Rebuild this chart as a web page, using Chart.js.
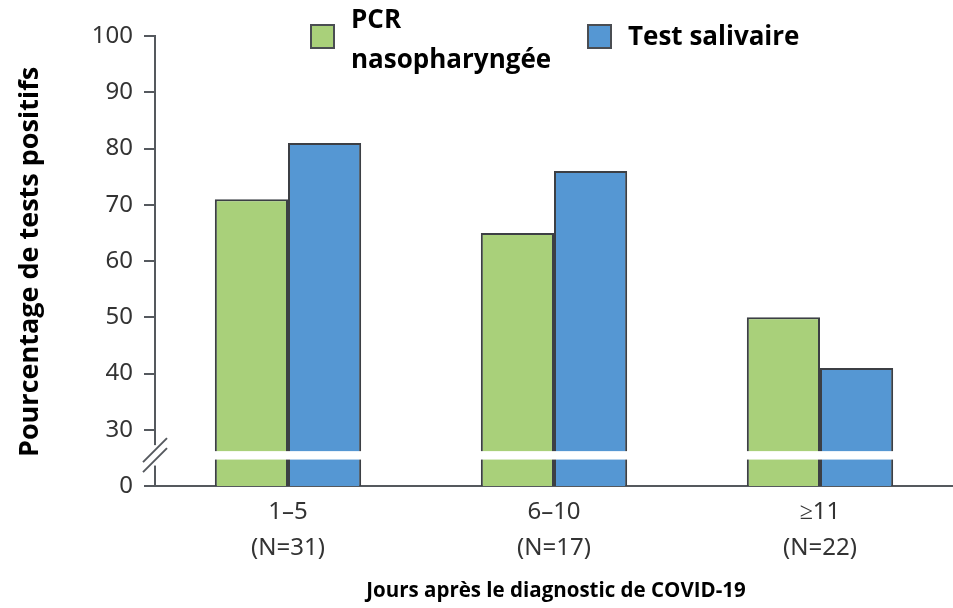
<!DOCTYPE html>
<html>
<head>
<meta charset="utf-8">
<script src="https://cdn.jsdelivr.net/npm/chart.js"></script>
<style>
  html, body { margin: 0; padding: 0; background: #fff; }
  #wrap { width: 953px; height: 608px; position: relative; }
</style>
</head>
<body>
<div id="wrap"><canvas id="chart"></canvas></div>
<script>
// données du graphique
const categories = [["1–5", "(N=31)"], ["6–10", "(N=17)"], ["≥11", "(N=22)"]];
const pcrValues = [71, 65, 50];
const salivaValues = [81, 76, 41];
const seriesNames = [["PCR", "nasopharyngée"], ["Test salivaire"]];
const yTicks = [20, 30, 40, 50, 60, 70, 80, 90, 100];
// la graduation 20 sert de "0" sous la coupure de l'axe
const yTickLabels = { 20: "0" };

const green = "#a9d07a";
const blue = "#5597d3";
const edge = "#3c3f44";
const axisColor = "#55595e";

// coupure de l'axe Y + bande blanche sur les barres + titres + légende
const brokenAxis = {
    id: "brokenAxis",
    afterDatasetsDraw(chart) {
        const ctx = chart.ctx;
        const y = chart.scales.y;
        const area = chart.chartArea;
        const yTop = y.getPixelForValue(26.2);
        const yBot = y.getPixelForValue(24.7);
        ctx.save();
        ctx.fillStyle = "#fff";
        ctx.fillRect(area.left + 2, yTop, area.right - area.left, yBot - yTop);
        // barres obliques sur l'axe
        const x0 = area.left;
        ctx.fillRect(x0 - 3, yTop - 6, 6, yBot - yTop + 12);
        ctx.strokeStyle = axisColor;
        ctx.lineWidth = 2;
        [-5, 5].forEach(d => {
            ctx.beginPath();
            ctx.moveTo(x0 - 12, yTop + 14 + d + 2);
            ctx.lineTo(x0 + 12, yTop - 10 + d + 2);
            ctx.stroke();
        });
        ctx.restore();
    },
    afterDraw(chart) {
        const ctx = chart.ctx;
        ctx.save();
        ctx.fillStyle = "#000";
        // titre de l'axe Y
        ctx.font = "bold 27px 'Open Sans'";
        ctx.textAlign = "center";
        ctx.textBaseline = "middle";
        ctx.translate(30, 262);
        ctx.rotate(-Math.PI / 2);
        ctx.fillText("Pourcentage de tests positifs", 0, 0);
        ctx.setTransform(1, 0, 0, 1, 0, 0);
        // titre de l'axe X
        ctx.font = "bold 20.5px 'Open Sans'";
        ctx.fillText("Jours après le diagnostic de COVID-19", 556, 591);

        // légende
        const items = [
            { color: green, x: 311, lines: seriesNames[0], textY: 21 },
            { color: blue, x: 588, lines: seriesNames[1], textY: 38 }
        ];
        ctx.textAlign = "left";
        ctx.font = "bold 26px 'Open Sans'";
        items.forEach(it => {
            ctx.fillStyle = it.color;
            ctx.fillRect(it.x, 25, 23, 23);
            ctx.strokeStyle = "#4a4d52";
            ctx.lineWidth = 2;
            ctx.strokeRect(it.x, 25, 23, 23);
            ctx.fillStyle = "#000";
            it.lines.forEach((t, i) => ctx.fillText(t, it.x + 40, it.textY + i * 40));
        });
        ctx.restore();
    }
};

new Chart(document.getElementById("chart"), {
    type: "bar",
    data: {
        labels: categories,
        datasets: [
            { label: "PCR nasopharyngée", data: pcrValues, backgroundColor: green, borderColor: edge, borderWidth: 2, borderSkipped: "bottom" },
            { label: "Test salivaire", data: salivaValues, backgroundColor: blue, borderColor: edge, borderWidth: 2, borderSkipped: "bottom" }
        ]
    },
    options: {
        responsive: true,
        maintainAspectRatio: false,
        animation: false,
        layout: { padding: { top: 36, right: 0, left: 0, bottom: 0 } },
        plugins: { legend: { display: false }, tooltip: { enabled: false } },
        datasets: { bar: { categoryPercentage: 0.55, barPercentage: 1 } },
        scales: {
            x: {
                grid: { display: false, drawTicks: false },
                border: { color: axisColor, width: 2 },
                ticks: { color: "#333", font: { family: "'Noto Sans'", size: 24, lineHeight: 1.5 }, padding: 8, maxRotation: 0 },
                afterFit(scale) { scale.height = 122; }
            },
            y: {
                min: 20,
                max: 100,
                afterBuildTicks(scale) { scale.ticks = yTicks.map(v => ({ value: v })); },
                grid: { drawOnChartArea: false, drawTicks: true, tickLength: 11, color: axisColor, lineWidth: 2 },
                border: { color: axisColor, width: 2 },
                ticks: {
                    color: "#333",
                    font: { family: "'Noto Sans'", size: 24 },
                    padding: 11,
                    callback: v => (yTickLabels[v] !== undefined ? yTickLabels[v] : String(v))
                },
                afterFit(scale) { scale.width = 155; }
            }
        }
    },
    plugins: [brokenAxis]
});
</script>
</body>
</html>
